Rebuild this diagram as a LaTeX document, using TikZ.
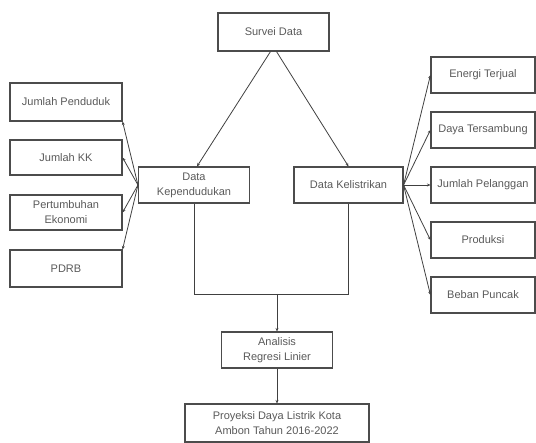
\documentclass[tikz,border=0pt]{standalone}
\usepackage{fontspec}
\setmainfont{Liberation Sans}
\usepackage{xcolor}
\usepackage{tikz}
\usetikzlibrary{arrows.meta,positioning}

\begin{document}
\begin{tikzpicture}[
			x=1pt, y=-1pt,
			every node/.style={draw=black!70, line width=1.1pt, rectangle, align=center, inner sep=1pt,
				font=\fontsize{11}{15}\selectfont, text=black!65},
			sidebox/.style={minimum width=112pt, minimum height=36pt},
			mainbox/.style={minimum width=111pt, minimum height=36pt},
			link/.style={draw=black!75, line width=0.8pt, -{Stealth[length=3.5pt,width=3pt]}},
			plain/.style={draw=black!75, line width=0.9pt}
			]
			\useasboundingbox (0,0) rectangle (536,443);
			% sumber data
			\node[mainbox, minimum height=38pt] (survei) at (273.5,32) {Survei Data};
			\node[mainbox] (kep) at (194,185) {Data\\Kependudukan};
			\node[mainbox, minimum width=109pt] (kel) at (348.5,185) {Data Kelistrikan};
			% variabel kependudukan
			\node[sidebox, minimum height=38pt] (jp) at (66,102) {Jumlah Penduduk};
			\node[sidebox, minimum height=35pt] (kk) at (66,157.5) {Jumlah KK};
			\node[sidebox, minimum height=35pt] (pe) at (66,212.5) {Pertumbuhan\\Ekonomi};
			\node[sidebox, minimum height=37pt] (pdrb) at (66,268.5) {PDRB};
			% variabel kelistrikan
			\node[sidebox, minimum width=104pt] (et) at (483,75) {Energi Terjual};
			\node[sidebox, minimum width=104pt] (dt) at (483,130) {Daya Tersambung};
			\node[sidebox, minimum width=104pt] (jpl) at (483,185) {Jumlah Pelanggan};
			\node[sidebox, minimum width=104pt] (prod) at (483,240) {Produksi};
			\node[sidebox, minimum width=104pt] (bp) at (483,295) {Beban Puncak};
			% analisis
			\node[mainbox] (ana) at (277,350) {Analisis\\Regresi Linier};
			\node[mainbox, minimum width=184pt, minimum height=38pt] (proy) at (277,423) {Proyeksi Daya Listrik Kota\\Ambon Tahun 2016-2022};
			\coordinate (gab) at (277,294);

			\draw[link] ([xshift=-3pt]survei.south) -- ([xshift=3pt]kep.north);
			\draw[link] ([xshift=3pt]survei.south) -- (kel.north);
			\foreach \t/\a in {jp/south east, kk/east, pe/east, pdrb/north east}
				\draw[link] (kep.west) -- (\t.\a);
			\foreach \t in {et, dt, jpl, prod, bp}
				\draw[link] (kel.east) -- (\t.west);
			\draw[plain] (kep.south) -- (kep.south |- gab) -- (kel.south |- gab) -- (kel.south);
			\draw[link] (gab) -- (ana.north);
			\draw[link] (ana.south) -- (proy.north);
		\end{tikzpicture}
\end{document}
